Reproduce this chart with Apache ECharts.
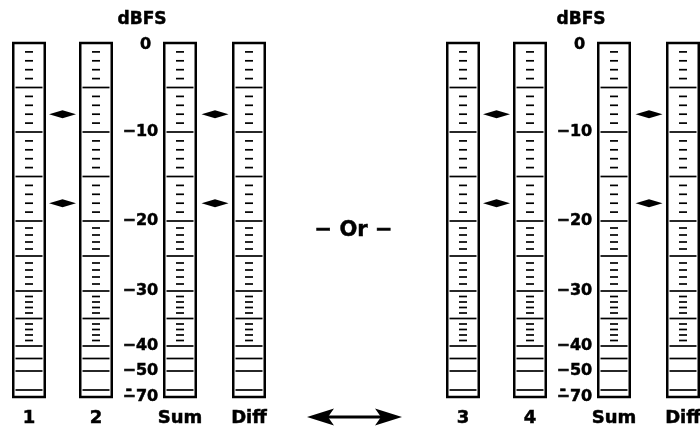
<!DOCTYPE html>
<html><head><meta charset="utf-8">
<script src="https://cdn.jsdelivr.net/npm/echarts@6/dist/echarts.min.js"></script>
<style>html,body{margin:0;padding:0;background:#fff}#c{width:700px;height:428px}</style>
</head><body><div id="c"></div>
<script>
// ---- data ----
const meterNamesLeft = ['1', '2', 'Sum', 'Diff'];
const meterNamesRight = ['3', '4', 'Sum', 'Diff'];
const scaleLabelDb = [0, -10, -20, -30, -40, -50, -70];
const scaleLabelText = ['0', '−10', '−20', '−30', '−40', '−50', '−70'];
const extraLabelDb = [-60];
const extraLabelText = ['-'];
const majorTickDb = [-5, -10, -15, -20, -25, -30, -35, -40, -45, -50, -60];
const minorTickDb = [-1, -2, -3, -4, -6, -7, -8, -9, -11, -12, -13, -14, -16, -17, -18, -19,
  -21, -22, -23, -24, -26, -27, -28, -29, -31, -32, -33, -34, -36, -37, -38, -39];
const markerDb = [-8, -18];

// ---- meter display scale (piecewise linear, dB -> scale units) ----
const SCALE_DB = [0, -20, -30, -40, -50, -60, -70];
const SCALE_POS = [0, 178, 248, 303, 328, 347, 354];
function pos(db) {
  for (let i = 0; i < SCALE_DB.length - 1; i++) {
    const a = SCALE_DB[i], b = SCALE_DB[i + 1];
    if (db <= a && db >= b) {
      return SCALE_POS[i] + (a - db) / (a - b) * (SCALE_POS[i + 1] - SCALE_POS[i]);
    }
  }
  return SCALE_POS[SCALE_POS.length - 1];
}

// ---- layout ----
const FONT = 'DejaVu Sans';
const TOP = 43, HEIGHT = 354, MW = 34, BW = 2.5;
const groupOffsets = [0, 434];
const meterLefts = [12, 79, 163, 232];
const markerCenters = [62.5, 215];
const HEAVY = { textBorderColor: '#000', textBorderWidth: 0.5 };
const BASE_TXT = Object.assign({ fontFamily: FONT, fontWeight: 'bold', fontSize: 16, color: '#000' }, HEAVY);

const grids = [], xAxes = [], yAxes = [], extraY = [], series = [];
function labelFormatter(vals, texts) {
  return function (v) {
    let k = 0, best = Infinity;
    vals.forEach((p, i) => { if (Math.abs(p - v) < best) { best = Math.abs(p - v); k = i; } });
    const t = texts[k];
    if (t === '0') return '{z|' + t + '}';
    if (t === '-') return '{h|' + t + '}';
    return t;
  };
}
function yAx(gi, dbs, texts) {
  const ax = {
    gridIndex: gi, type: 'value', inverse: true, min: 0, max: SCALE_POS[SCALE_POS.length - 1],
    position: 'left', offset: 0,
    axisLine: { show: false }, axisTick: { show: false }, splitLine: { show: false },
    axisLabel: { show: false }
  };
  if (dbs) {
    const vals = dbs.map(pos);
    ax.axisLabel = Object.assign({
      show: true, customValues: vals, margin: 6, showMinLabel: true, showMaxLabel: true, hideOverlap: false,
      formatter: labelFormatter(vals, texts),
      rich: {
        z: Object.assign({}, BASE_TXT, { padding: [4, 7, 0, 0] }),
        h: Object.assign({}, BASE_TXT, { padding: [0, 26, 0, 0] })
      }
    }, BASE_TXT);
  }
  return ax;
}
function xAx(gi, name) {
  return {
    gridIndex: gi, type: 'value', min: -1, max: 1, show: true,
    axisLine: { show: false }, axisTick: { show: false }, splitLine: { show: false }, axisLabel: { show: false },
    name: name || '', nameLocation: 'middle', nameGap: 12,
    nameTextStyle: Object.assign({ fontFamily: FONT, fontWeight: 'bold', fontSize: 18, color: '#000' }, HEAVY)
  };
}
function tickSeries(gi, dbs, w) {
  return {
    type: 'scatter', xAxisIndex: gi, yAxisIndex: gi, symbol: 'rect', symbolSize: [w, 1.7],
    itemStyle: { color: '#000', opacity: 1 }, silent: true, animation: false, emphasis: { disabled: true },
    data: dbs.map(d => [0, pos(d)])
  };
}

groupOffsets.forEach((off, g) => {
  const names = g === 0 ? meterNamesLeft : meterNamesRight;
  meterLefts.forEach((l, m) => {
    const gi = grids.length;
    grids.push({ left: off + l + BW / 2, top: TOP, width: MW - BW, height: HEIGHT, show: true,
      borderColor: '#000', borderWidth: BW, backgroundColor: 'transparent', outerBoundsMode: 'none' });
    xAxes.push(xAx(gi, names[m]));
    if (m === 2) {
      yAxes.push(yAx(gi, scaleLabelDb, scaleLabelText));
      extraY.push(yAx(gi, extraLabelDb, extraLabelText));
    } else {
      yAxes.push(yAx(gi));
    }
    series.push(tickSeries(gi, majorTickDb, 27));
    series.push(tickSeries(gi, minorTickDb, 8));
  });
  markerCenters.forEach(c => {
    const gi = grids.length;
    grids.push({ left: off + c - 15, top: TOP, width: 30, height: HEIGHT, show: false, outerBoundsMode: 'none' });
    xAxes.push(xAx(gi, ''));
    yAxes.push(yAx(gi));
    series.push({
      type: 'scatter', xAxisIndex: gi, yAxisIndex: gi, symbol: 'diamond', symbolSize: [27, 8],
      itemStyle: { color: '#000', opacity: 1 }, silent: true, animation: false, emphasis: { disabled: true },
      data: markerDb.map(d => [0, pos(d)])
    });
  });
});

const txt = (x, y, t, size) => ({
  type: 'text', x: x, y: y, silent: true,
  style: { text: t, fill: '#000', stroke: '#000', lineWidth: 0.5, font: 'bold ' + size + 'px "' + FONT + '"', align: 'center', verticalAlign: 'middle' }
});

const chart = echarts.init(document.getElementById('c'), null, { renderer: 'canvas' });
chart.setOption({
  animation: false,
  backgroundColor: '#fff',
  grid: grids, xAxis: xAxes, yAxis: yAxes.concat(extraY), series: series,
  graphic: [
    txt(142, 20, 'dBFS', 17),
    txt(581, 20, 'dBFS', 17),
    txt(353.5, 231, '− Or −', 21),
    { type: 'line', silent: true, shape: { x1: 322, y1: 417, x2: 387, y2: 417 }, style: { stroke: '#000', lineWidth: 3 } },
    { type: 'polygon', silent: true, shape: { points: [[307, 417], [334, 408.5], [328, 417], [334, 425.5]] }, style: { fill: '#000' } },
    { type: 'polygon', silent: true, shape: { points: [[402, 417], [375, 408.5], [381, 417], [375, 425.5]] }, style: { fill: '#000' } }
  ]
});
</script></body></html>
